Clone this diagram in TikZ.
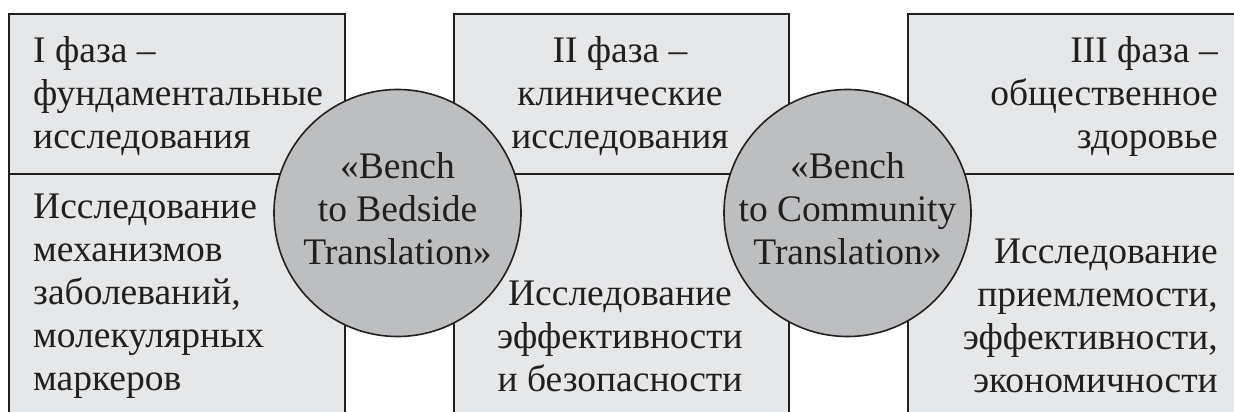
\documentclass[tikz,border=0pt]{standalone}
\usepackage{fontspec}
\setmainfont{Liberation Serif}
\definecolor{boxfill}{HTML}{E6E7E8}
\definecolor{circfill}{HTML}{BCBEC0}
\definecolor{ink}{HTML}{231F20}
\newcommand{\txtfont}{\fontsize{37.5}{43}\selectfont}
\tikzset{
  box/.style={draw=ink, fill=boxfill, line width=1.6pt, rectangle, inner sep=0pt, anchor=north west},
  bubble/.style={draw=ink, fill=circfill, line width=1.6pt, circle, inner sep=0pt, minimum size=247pt},
  divider/.style={draw=ink, line width=1.6pt},
  lbl/.style={inner sep=0pt, text=ink, font=\txtfont},
}
\begin{document}
\begin{tikzpicture}[x=1pt,y=-1pt]
\useasboundingbox (0,0) rectangle (1234,412);
\clip (0,0) rectangle (1234,412);
\fill[white] (0,0) rectangle (1234,412);
% boxes
\node[box, minimum width=336pt, minimum height=420pt] (b1) at (8,13) {};
\node[box, minimum width=335pt, minimum height=420pt] (b2) at (453,13) {};
\node[box, minimum width=360pt, minimum height=420pt] (b3) at (907,13) {};
\coordinate (d) at (0,174);
\draw[divider] (b1.west |- d) -- (b1.east |- d);
\draw[divider] (b2.west |- d) -- (b2.east |- d);
\draw[divider] (b3.west |- d) -- (b3.east |- d);
% circles
\node[bubble] (c1) at (397.5,213) {};
\node[bubble] (c2) at (847.5,213) {};
% texts
\node[lbl, anchor=base west] (t1) at (33,63) {\begin{tabular}[t]{@{}l@{}}I фаза –\\фундаментальные\\исследования\end{tabular}};
\node[lbl, anchor=base west] (t2) at (33,218) {\begin{tabular}[t]{@{}l@{}}Исследование\\механизмов\\заболеваний,\\молекулярных\\маркеров\end{tabular}};
\node[lbl, anchor=base] (t3) at (620,63) {\begin{tabular}[t]{@{}c@{}}II фаза –\\клинические\\исследования\end{tabular}};
\node[lbl, anchor=base] (t4) at (620,305) {\begin{tabular}[t]{@{}c@{}}Исследование\\эффективности\\и безопасности\end{tabular}};
\node[lbl, anchor=base east] (t5) at (1218,63) {\begin{tabular}[t]{@{}r@{}}III фаза –\\общественное\\здоровье\end{tabular}};
\node[lbl, anchor=base east] (t6) at (1218,263) {\begin{tabular}[t]{@{}r@{}}Исследование\\приемлемости,\\эффективности,\\экономичности\end{tabular}};
\node[lbl, anchor=base] (t7) at (c1 |- 0,178) {\begin{tabular}[t]{@{}c@{}}«Bench\\to Bedside\\Translation»\end{tabular}};
\node[lbl, anchor=base] (t8) at (c2 |- 0,178) {\begin{tabular}[t]{@{}c@{}}«Bench\\to Community\\Translation»\end{tabular}};
\end{tikzpicture}
\end{document}
